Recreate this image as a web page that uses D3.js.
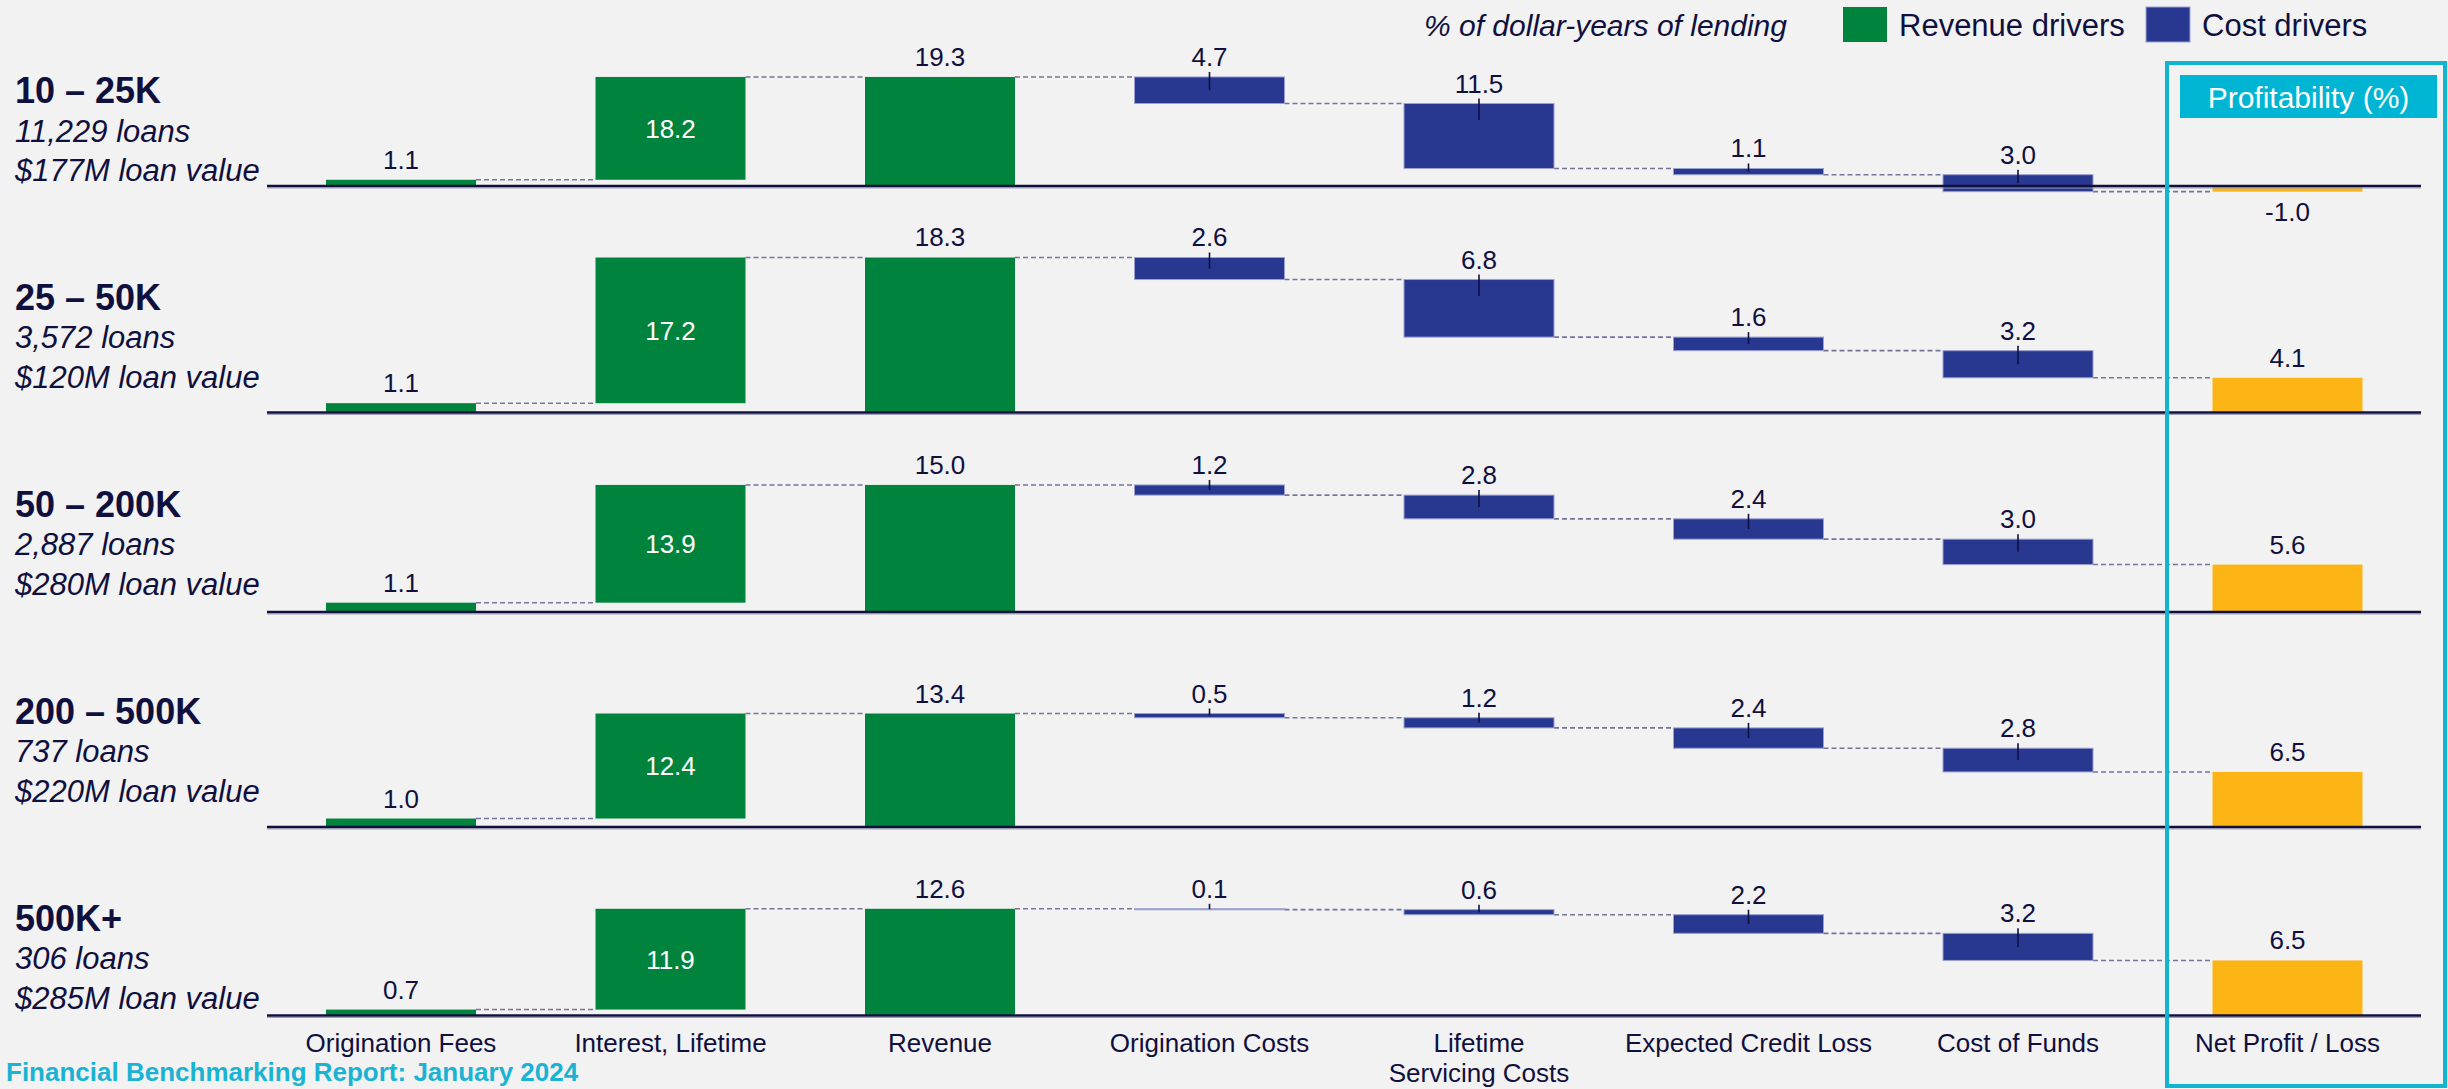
<!DOCTYPE html>
<html>
<head>
<meta charset="utf-8">
<script src="https://cdn.jsdelivr.net/npm/d3@7"></script>
<style>
  html, body { margin: 0; padding: 0; background: #f2f2f2; }
  svg { display: block; }
  text { font-family: "Liberation Sans", Arial, sans-serif; }
</style>
</head>
<body>
<svg id="chart" width="2448" height="1089"></svg>
<script>
// Loan-size segments and their descriptors
const segments = ["10 – 25K", "25 – 50K", "50 – 200K", "200 – 500K", "500K+"];
const loanCounts = ["11,229 loans", "3,572 loans", "2,887 loans", "737 loans", "306 loans"];
const loanValues = ["$177M loan value", "$120M loan value", "$280M loan value", "$220M loan value", "$285M loan value"];

// Waterfall steps (x axis)
const categories = ["Origination Fees", "Interest, Lifetime", "Revenue", "Origination Costs",
  "Lifetime\nServicing Costs", "Expected Credit Loss", "Cost of Funds", "Net Profit / Loss"];

// % of dollar-years of lending, per segment
const originationFees = [1.1, 1.1, 1.1, 1.0, 0.7];
const interestLifetime = [18.2, 17.2, 13.9, 12.4, 11.9];
const revenue = [19.3, 18.3, 15.0, 13.4, 12.6];
const originationCosts = [4.7, 2.6, 1.2, 0.5, 0.1];
const servicingCosts = [11.5, 6.8, 2.8, 1.2, 0.6];
const creditLoss = [1.1, 1.6, 2.4, 2.4, 2.2];
const costOfFunds = [3.0, 3.2, 3.0, 2.8, 3.2];
const netProfit = [-1.0, 4.1, 5.6, 6.5, 6.5];

const legendItems = ["Revenue drivers", "Cost drivers"];

// Colours
const GREEN = "#00843d", NAVY = "#283891", GOLD = "#fdb515", CYAN = "#12b5d0";
const INK = "#10103f", DASH = "#75759a";

// Panel layout: baseline y and pixels per percentage point
const panelBase = [186, 412.5, 612, 827, 1015.5];
const panelUnit = [5.65, 8.47, 8.47, 8.47, 8.47];
const textTop = 103, textStep = 206.9;

const svg = d3.select("#chart");

const x = d3.scaleBand()
  .domain(categories)
  .range([266.25, 2422.25])
  .paddingInner(0.4434)
  .paddingOuter(0.2217);
const bw = x.bandwidth();

// Build waterfall steps for a segment
function buildSteps(i) {
  const steps = [];
  const f = originationFees[i], it = interestLifetime[i], rev = revenue[i];
  steps.push({ cat: categories[0], from: 0, to: f, value: f, type: "rev" });
  steps.push({ cat: categories[1], from: f, to: f + it, value: it, type: "rev", inside: true });
  steps.push({ cat: categories[2], from: 0, to: rev, value: rev, type: "rev" });
  let run = rev;
  [originationCosts, servicingCosts, creditLoss, costOfFunds].forEach((arr, k) => {
    const v = arr[i];
    steps.push({ cat: categories[3 + k], from: run, to: run - v, value: v, type: "cost" });
    run = run - v;
  });
  steps.push({ cat: categories[7], from: 0, to: netProfit[i], value: netProfit[i], type: "net" });
  return steps;
}

// One decimal, plain hyphen for negatives
const fmt = v => v.toFixed(1);

segments.forEach((seg, i) => {
  const base = panelBase[i];
  const y = d3.scaleLinear().domain([0, 20]).range([base, base - 20 * panelUnit[i]]);
  const g = svg.append("g").attr("class", "panel");
  const steps = buildSteps(i);

  // Segment description
  const ty = textTop + textStep * i;
  g.append("text").attr("x", 15).attr("y", ty)
    .attr("font-size", 36).attr("font-weight", "bold").attr("fill", INK).text(seg);
  g.append("text").attr("x", 15).attr("y", ty + 38.5)
    .attr("font-size", 31).attr("font-style", "italic").attr("fill", INK).text(loanCounts[i]);
  g.append("text").attr("x", 15).attr("y", ty + 78)
    .attr("font-size", 31).attr("font-style", "italic").attr("fill", INK).text(loanValues[i]);

  // Dashed connectors between consecutive bars
  for (let k = 0; k < steps.length - 1; k++) {
    const level = steps[k].to;
    g.append("line")
      .attr("x1", x(steps[k].cat) + bw).attr("x2", x(steps[k + 1].cat))
      .attr("y1", y(level)).attr("y2", y(level))
      .attr("stroke", DASH).attr("stroke-width", 1.6).attr("stroke-dasharray", "5,3");
  }

  // Bars
  steps.forEach(s => {
    const y0 = Math.min(y(s.from), y(s.to)), y1 = Math.max(y(s.from), y(s.to));
    const fill = s.type === "rev" ? GREEN : s.type === "cost" ? NAVY : GOLD;
    const r = g.append("rect").attr("x", x(s.cat)).attr("y", y0)
      .attr("width", bw).attr("height", Math.max(1, y1 - y0)).attr("fill", fill);
    if (s.type === "cost") r.attr("stroke", "#9aa0cf").attr("stroke-width", 1);
  });

  // Baseline
  g.append("line").attr("x1", 267).attr("x2", 2421).attr("y1", base + 2).attr("y2", base + 2)
    .attr("stroke", "#a0a0b8").attr("stroke-width", 1.2);
  g.append("line").attr("x1", 267).attr("x2", 2421).attr("y1", base).attr("y2", base)
    .attr("stroke", INK).attr("stroke-width", 2.4);

  // Ticks and value labels
  steps.forEach(s => {
    const cx = x(s.cat) + bw / 2;
    const top = Math.min(y(s.from), y(s.to));
    const bottom = Math.max(y(s.from), y(s.to));
    if (s.type === "cost") {
      const h = bottom - top;
      g.append("line").attr("x1", cx).attr("x2", cx)
        .attr("y1", top - 5).attr("y2", top + Math.min(h / 2, 16.5))
        .attr("stroke", INK).attr("stroke-width", 1.6);
    }
    const t = g.append("text").attr("x", cx).attr("text-anchor", "middle")
      .attr("font-size", 26).attr("fill", INK).text(fmt(s.value));
    if (s.inside) {
      t.attr("y", (top + bottom) / 2).attr("dy", "0.36em").attr("fill", "#ffffff");
    } else if (s.type === "net" && s.value < 0) {
      t.attr("y", bottom + 29);
    } else {
      t.attr("y", top - 11);
    }
  });
});

// Category axis labels
const lab = svg.append("g").attr("class", "x-labels");
categories.forEach(c => {
  const lines = c.split("\n");
  const t = lab.append("text").attr("x", x(c) + bw / 2).attr("y", 1051.5)
    .attr("text-anchor", "middle").attr("font-size", 26).attr("fill", INK);
  lines.forEach((ln, j) => {
    t.append("tspan").attr("x", x(c) + bw / 2).attr("dy", j === 0 ? 0 : 30).text(ln);
  });
});

// Profitability highlight frame
svg.append("rect").attr("x", 2167).attr("y", 63).attr("width", 278).attr("height", 1023)
  .attr("fill", "none").attr("stroke", CYAN).attr("stroke-width", 4);
svg.append("rect").attr("x", 2180).attr("y", 75).attr("width", 257).attr("height", 43)
  .attr("fill", "#00b5d3");
svg.append("text").attr("x", 2308.5).attr("y", 97).attr("dy", "0.36em")
  .attr("text-anchor", "middle").attr("font-size", 30).attr("fill", "#ffffff")
  .text("Profitability (%)");

// Legend
const lg = svg.append("g").attr("class", "legend");
lg.append("text").attr("x", 1424).attr("y", 36).attr("font-size", 30)
  .attr("font-style", "italic").attr("fill", INK).text("% of dollar-years of lending");
const legendX = [1843, 2146];
const legendColors = [GREEN, NAVY];
legendItems.forEach((name, k) => {
  lg.append("rect").attr("x", legendX[k]).attr("y", 7).attr("width", 44).attr("height", 35)
    .attr("fill", legendColors[k]).attr("stroke", k === 1 ? "#9aa0cf" : "none");
  lg.append("text").attr("x", legendX[k] + 56).attr("y", 36).attr("font-size", 31)
    .attr("fill", INK).text(name);
});

// Footer
svg.append("text").attr("x", 6).attr("y", 1081).attr("font-size", 26)
  .attr("font-weight", "bold").attr("fill", "#1ab3d3")
  .text("Financial Benchmarking Report: January 2024");
</script>
</body>
</html>
